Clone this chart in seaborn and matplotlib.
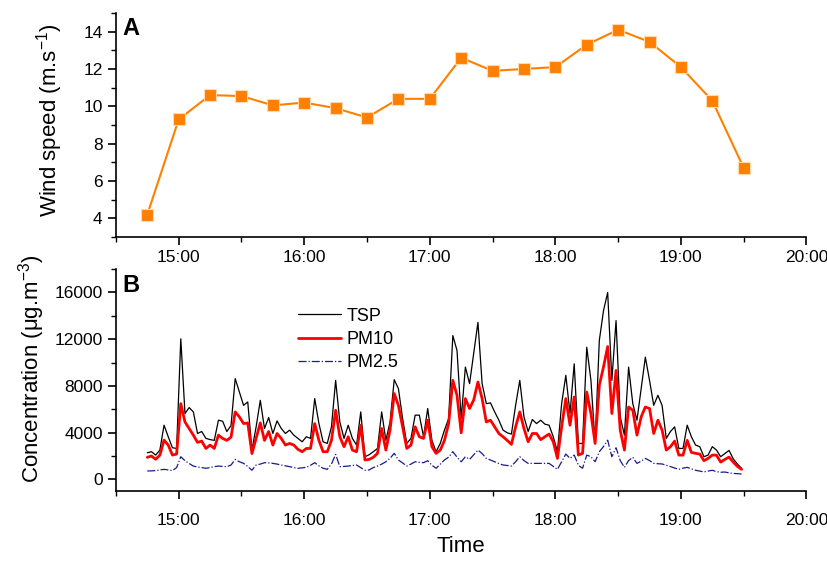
import numpy as np
import pandas as pd
import matplotlib
matplotlib.use('Agg')
import matplotlib.pyplot as plt
import matplotlib.dates as mdates
from matplotlib.ticker import MultipleLocator
import seaborn as sns

# 风速 (每15分钟)
wind_speed = [4.2, 9.3, 10.6, 10.55, 10.05, 10.2, 9.9, 9.4, 10.4, 10.4,
              12.6, 11.9, 12.0, 12.1, 13.3, 14.1, 13.45, 12.1, 10.3, 6.7]

# 颗粒物浓度 (每2分钟)
tsp = [2270, 2360, 2070, 2500, 4630, 3640, 2700, 2640, 12030, 5630,
       6140, 5770, 3920, 4090, 3500, 3400, 3330, 5060, 4970, 4090,
       4600, 8620, 7470, 6330, 6620, 2500,
       4490, 6760, 4350, 5290, 3920, 5000, 4350, 3920, 4210, 3780,
       3500, 3210, 3640, 3500, 6910, 4780, 3210, 3070, 4490, 8470,
       4910, 3500, 4630, 3500, 2930, 5770, 1930,
       2100,
       2360, 2640, 5770, 3330, 4910, 8530, 7760, 5200, 3070, 3500,
       5490, 5490, 3640, 6060, 3330, 2360, 3070, 4210, 5200, 12310,
       11030, 5200, 9610, 8190, 10790, 13440,
       8190, 6480, 6540, 5770, 5060, 4210, 3980, 3870, 6330, 8470,
       5340, 4090, 5120, 4770, 5060, 4720, 4630, 3640, 2360, 6480,
       8900, 5630, 9890, 3070, 3070, 11310, 8470, 3070,
       11880, 14440, 16000, 8470, 13590, 5340, 3780, 9610, 6480, 5060,
       7760, 10460, 8470, 6330, 7190, 6330, 3500, 4090, 4490, 2640,
       2640, 4630, 3640, 2930, 2790, 1930, 2070, 2790,
       2500, 1930, 2200, 2470, 1750, 1300, 940]

pm10 = [1880, 1990, 1710, 2070, 3350, 2930, 2070, 2160, 6480, 4910,
        4350, 3780, 3160, 3270, 2640, 2930, 2640, 3780, 3500, 3330,
        3610, 5770, 5340, 4770, 4830, 2200,
        3500, 4830, 3330, 4090, 2930, 3920, 3500, 2930, 3070, 2930,
        2560, 2360, 2640, 2640, 4770, 3330, 2360, 2360, 3330, 5910,
        3640, 2790, 3640, 2500, 2360, 4630, 1650,
        1700,
        1880, 2220, 4350, 2500, 4210, 7340, 6330, 4490, 2640, 2930,
        4490, 3640, 3500, 5060, 2790, 2220, 2500, 3330, 4770, 8470,
        7190, 3980, 6910, 6060, 6800, 8330,
        6910, 4910, 5060, 4490, 3920, 3640, 3330, 2990, 4490, 5770,
        4350, 3210, 3920, 3920, 3390, 3640, 3870, 3210, 1790, 4490,
        6910, 4630, 7050, 2070, 2220, 7470, 5630, 3070,
        8040, 9610, 11370, 5630, 9320, 4210, 2500, 6190, 5910, 3780,
        5340, 6190, 6060, 3920, 5060, 4210, 2500, 2790, 3270, 2070,
        2070, 3330, 2300, 2220, 2160, 1590, 1790, 2070,
        2070, 1470, 1700, 1900, 1470, 1100, 850]

pm25 = [710, 720, 740, 800, 850, 800, 740, 1000, 1930, 1590,
        1350, 1130, 1050, 1000, 940, 1000, 1080, 1130, 1100, 1080,
        1220, 1700, 1500, 1360, 1100, 770,
        1220, 1300, 1420, 1400, 1360, 1300, 1220, 1150, 1080, 1000,
        940, 980, 1020, 1200, 1420, 1150, 940, 850, 1300, 2130,
        1080, 1100, 1130, 1180, 1220, 1000, 770,
        800,
        1000, 1130, 1300, 1500, 1800, 2220, 1650, 1400, 1130, 1300,
        1500, 1450, 1420, 1590, 1200, 940, 1300, 1650, 1900, 2360,
        1900, 1500, 1930, 1700, 2100, 2500,
        2200, 1790, 1650, 1500, 1350, 1220, 1180, 1130, 1500, 1930,
        1600, 1360, 1360, 1360, 1360, 1360, 1360, 1100, 850, 1500,
        2160, 1790, 2070, 1200, 940, 2070, 1930, 1500,
        2360, 2800, 3350, 1930, 2700, 1600, 1020, 1600, 1880, 1360,
        1550, 1790, 1600, 1360, 1330, 1310, 1200, 1080, 950, 850,
        950, 1020, 900, 770, 700, 630, 700, 770,
        650, 600, 620, 550, 500, 480, 450]

day = '2012-04-01'
t_wind = pd.date_range(day + ' 14:45', periods=len(wind_speed), freq='15min')
t_conc = pd.date_range(day + ' 14:45', periods=len(tsp), freq='2min')

sns.set_style('ticks')
plt.rcParams['font.family'] = ['Liberation Sans', 'DejaVu Sans']
plt.rcParams['mathtext.fontset'] = 'custom'
plt.rcParams['mathtext.rm'] = 'Liberation Sans'
for k in ('text.color', 'axes.labelcolor', 'xtick.color', 'ytick.color'):
    plt.rcParams[k] = 'black'

fig = plt.figure(figsize=(8.28, 5.63), dpi=100)
ax1 = fig.add_axes([0.140, 0.579, 0.834, 0.398])
ax2 = fig.add_axes([0.140, 0.128, 0.834, 0.394])

sns.lineplot(x=t_wind, y=wind_speed, ax=ax1, color='#FF8000', lw=1.5,
             marker='s', markersize=8, markerfacecolor='#FF8000',
             markeredgecolor='#FFD9B0', markeredgewidth=0.8)

df = pd.DataFrame({'time': t_conc, 'TSP': tsp, 'PM10': pm10, 'PM2.5': pm25})
sns.lineplot(data=df, x='time', y='TSP', ax=ax2, color='black', lw=0.9, label='TSP')
sns.lineplot(data=df, x='time', y='PM10', ax=ax2, color='#FF0000', lw=2.0, label='PM10')
sns.lineplot(data=df, x='time', y='PM2.5', ax=ax2, color='#1A1A8C', lw=0.9,
             linestyle='-.', label='PM2.5')

x0 = pd.Timestamp(day + ' 14:30')
x1 = pd.Timestamp(day + ' 20:00')
for ax in (ax1, ax2):
    ax.set_xlim(x0, x1)
    ax.xaxis.set_major_locator(mdates.HourLocator())
    ax.xaxis.set_minor_locator(mdates.MinuteLocator(byminute=[30]))
    ax.xaxis.set_major_formatter(mdates.DateFormatter('%H:%M'))
    ax.tick_params(axis='both', which='major', direction='out', length=6,
                   width=1.2, labelsize=12.5)
    ax.tick_params(axis='both', which='minor', direction='out', length=3.5, width=1.0)
    for s in ('top', 'right'):
        ax.spines[s].set_visible(False)
    for s in ('left', 'bottom'):
        ax.spines[s].set_linewidth(1.2)
        ax.spines[s].set_color('black')

ax1.set_ylim(3, 15)
ax1.yaxis.set_major_locator(MultipleLocator(2))
ax1.yaxis.set_minor_locator(MultipleLocator(1))
ax1.set_ylabel('Wind speed (m.s$^{-1}$)', fontsize=16)
ax1.yaxis.set_label_coords(-0.074, 0.52)
ax1.set_xlabel('')
ax1.text(0.01, 0.98, 'A', transform=ax1.transAxes, fontsize=17,
         fontweight='bold', va='top', ha='left')

ax2.set_ylim(-1000, 18000)
ax2.yaxis.set_major_locator(MultipleLocator(4000))
ax2.yaxis.set_minor_locator(MultipleLocator(2000))
ax2.tick_params(axis='x', which='major', pad=10)
ax2.set_ylabel('Concentration (\u03bcg.m$^{-3}$)', fontsize=16)
ax2.yaxis.set_label_coords(-0.100, 0.55)
ax2.set_xlabel('Time', fontsize=16, labelpad=6)
ax2.text(0.01, 0.98, 'B', transform=ax2.transAxes, fontsize=17,
         fontweight='bold', va='top', ha='left')
ax2.legend(loc='upper left', bbox_to_anchor=(0.24, 0.90), frameon=False,
           fontsize=13, handlelength=2.4, handletextpad=0.3, labelspacing=0.35)

fig.savefig('out.png', dpi=100)
